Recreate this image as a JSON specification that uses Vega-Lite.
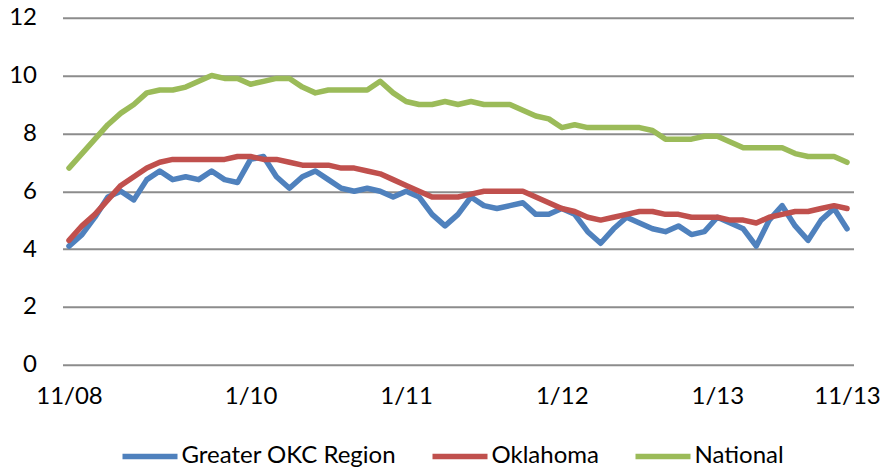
{
  "$schema": "https://vega.github.io/schema/vega-lite/v6.json",
  "autosize": {"type": "none"},
  "padding": {"left": 62.5, "top": 17.7, "right": 41.5, "bottom": 104.3},
  "width": 791,
  "height": 347,
  "background": "white",
  "config": {
    "view": {"stroke": null},
    "font": "Lato",
    "axis": {"labelFont": "Lato", "labelFontSize": 24, "labelColor": "#000000"}
  },
  "data": {
    "values": [
      {"m": "11/08", "Greater OKC Region": 4.1, "Oklahoma": 4.3, "National": 6.8},
      {"m": "12/08", "Greater OKC Region": 4.5, "Oklahoma": 4.8, "National": 7.3},
      {"m": "1/09", "Greater OKC Region": 5.1, "Oklahoma": 5.2, "National": 7.8},
      {"m": "2/09", "Greater OKC Region": 5.8, "Oklahoma": 5.7, "National": 8.3},
      {"m": "3/09", "Greater OKC Region": 6.0, "Oklahoma": 6.2, "National": 8.7},
      {"m": "4/09", "Greater OKC Region": 5.7, "Oklahoma": 6.5, "National": 9.0},
      {"m": "5/09", "Greater OKC Region": 6.4, "Oklahoma": 6.8, "National": 9.4},
      {"m": "6/09", "Greater OKC Region": 6.7, "Oklahoma": 7.0, "National": 9.5},
      {"m": "7/09", "Greater OKC Region": 6.4, "Oklahoma": 7.1, "National": 9.5},
      {"m": "8/09", "Greater OKC Region": 6.5, "Oklahoma": 7.1, "National": 9.6},
      {"m": "9/09", "Greater OKC Region": 6.4, "Oklahoma": 7.1, "National": 9.8},
      {"m": "10/09", "Greater OKC Region": 6.7, "Oklahoma": 7.1, "National": 10.0},
      {"m": "11/09", "Greater OKC Region": 6.4, "Oklahoma": 7.1, "National": 9.9},
      {"m": "12/09", "Greater OKC Region": 6.3, "Oklahoma": 7.2, "National": 9.9},
      {"m": "1/10", "Greater OKC Region": 7.1, "Oklahoma": 7.2, "National": 9.7},
      {"m": "2/10", "Greater OKC Region": 7.2, "Oklahoma": 7.1, "National": 9.8},
      {"m": "3/10", "Greater OKC Region": 6.5, "Oklahoma": 7.1, "National": 9.9},
      {"m": "4/10", "Greater OKC Region": 6.1, "Oklahoma": 7.0, "National": 9.9},
      {"m": "5/10", "Greater OKC Region": 6.5, "Oklahoma": 6.9, "National": 9.6},
      {"m": "6/10", "Greater OKC Region": 6.7, "Oklahoma": 6.9, "National": 9.4},
      {"m": "7/10", "Greater OKC Region": 6.4, "Oklahoma": 6.9, "National": 9.5},
      {"m": "8/10", "Greater OKC Region": 6.1, "Oklahoma": 6.8, "National": 9.5},
      {"m": "9/10", "Greater OKC Region": 6.0, "Oklahoma": 6.8, "National": 9.5},
      {"m": "10/10", "Greater OKC Region": 6.1, "Oklahoma": 6.7, "National": 9.5},
      {"m": "11/10", "Greater OKC Region": 6.0, "Oklahoma": 6.6, "National": 9.8},
      {"m": "12/10", "Greater OKC Region": 5.8, "Oklahoma": 6.4, "National": 9.4},
      {"m": "1/11", "Greater OKC Region": 6.0, "Oklahoma": 6.2, "National": 9.1},
      {"m": "2/11", "Greater OKC Region": 5.8, "Oklahoma": 6.0, "National": 9.0},
      {"m": "3/11", "Greater OKC Region": 5.2, "Oklahoma": 5.8, "National": 9.0},
      {"m": "4/11", "Greater OKC Region": 4.8, "Oklahoma": 5.8, "National": 9.1},
      {"m": "5/11", "Greater OKC Region": 5.2, "Oklahoma": 5.8, "National": 9.0},
      {"m": "6/11", "Greater OKC Region": 5.8, "Oklahoma": 5.9, "National": 9.1},
      {"m": "7/11", "Greater OKC Region": 5.5, "Oklahoma": 6.0, "National": 9.0},
      {"m": "8/11", "Greater OKC Region": 5.4, "Oklahoma": 6.0, "National": 9.0},
      {"m": "9/11", "Greater OKC Region": 5.5, "Oklahoma": 6.0, "National": 9.0},
      {"m": "10/11", "Greater OKC Region": 5.6, "Oklahoma": 6.0, "National": 8.8},
      {"m": "11/11", "Greater OKC Region": 5.2, "Oklahoma": 5.8, "National": 8.6},
      {"m": "12/11", "Greater OKC Region": 5.2, "Oklahoma": 5.6, "National": 8.5},
      {"m": "1/12", "Greater OKC Region": 5.4, "Oklahoma": 5.4, "National": 8.2},
      {"m": "2/12", "Greater OKC Region": 5.2, "Oklahoma": 5.3, "National": 8.3},
      {"m": "3/12", "Greater OKC Region": 4.6, "Oklahoma": 5.1, "National": 8.2},
      {"m": "4/12", "Greater OKC Region": 4.2, "Oklahoma": 5.0, "National": 8.2},
      {"m": "5/12", "Greater OKC Region": 4.7, "Oklahoma": 5.1, "National": 8.2},
      {"m": "6/12", "Greater OKC Region": 5.1, "Oklahoma": 5.2, "National": 8.2},
      {"m": "7/12", "Greater OKC Region": 4.9, "Oklahoma": 5.3, "National": 8.2},
      {"m": "8/12", "Greater OKC Region": 4.7, "Oklahoma": 5.3, "National": 8.1},
      {"m": "9/12", "Greater OKC Region": 4.6, "Oklahoma": 5.2, "National": 7.8},
      {"m": "10/12", "Greater OKC Region": 4.8, "Oklahoma": 5.2, "National": 7.8},
      {"m": "11/12", "Greater OKC Region": 4.5, "Oklahoma": 5.1, "National": 7.8},
      {"m": "12/12", "Greater OKC Region": 4.6, "Oklahoma": 5.1, "National": 7.9},
      {"m": "1/13", "Greater OKC Region": 5.1, "Oklahoma": 5.1, "National": 7.9},
      {"m": "2/13", "Greater OKC Region": 4.9, "Oklahoma": 5.0, "National": 7.7},
      {"m": "3/13", "Greater OKC Region": 4.7, "Oklahoma": 5.0, "National": 7.5},
      {"m": "4/13", "Greater OKC Region": 4.1, "Oklahoma": 4.9, "National": 7.5},
      {"m": "5/13", "Greater OKC Region": 5.0, "Oklahoma": 5.1, "National": 7.5},
      {"m": "6/13", "Greater OKC Region": 5.5, "Oklahoma": 5.2, "National": 7.5},
      {"m": "7/13", "Greater OKC Region": 4.8, "Oklahoma": 5.3, "National": 7.3},
      {"m": "8/13", "Greater OKC Region": 4.3, "Oklahoma": 5.3, "National": 7.2},
      {"m": "9/13", "Greater OKC Region": 5.0, "Oklahoma": 5.4, "National": 7.2},
      {"m": "10/13", "Greater OKC Region": 5.4, "Oklahoma": 5.5, "National": 7.2},
      {"m": "11/13", "Greater OKC Region": 4.7, "Oklahoma": 5.4, "National": 7.0}
    ]
  },
  "transform": [
    {"fold": ["Greater OKC Region", "Oklahoma", "National"], "as": ["series", "value"]}
  ],
  "mark": {"type": "line", "strokeWidth": 5.5, "strokeJoin": "round", "strokeCap": "round"},
  "encoding": {
    "x": {
      "field": "m",
      "type": "ordinal",
      "sort": null,
      "scale": {"type": "point", "padding": 0.5},
      "axis": {
        "title": null,
        "values": ["11/08", "1/10", "1/11", "1/12", "1/13", "11/13"],
        "domain": false,
        "ticks": false,
        "grid": false,
        "labelAngle": 0,
        "labelPadding": 20,
        "labelOverlap": false,
        "labelBound": false,
        "labelFlush": false
      }
    },
    "y": {
      "field": "value",
      "type": "quantitative",
      "scale": {"domain": [0, 12], "nice": false, "zero": true},
      "axis": {
        "title": null,
        "values": [0, 2, 4, 6, 8, 10, 12],
        "domain": false,
        "ticks": false,
        "grid": true,
        "gridColor": "#8c8c8c",
        "gridWidth": 2,
        "labelPadding": 26,
        "labelBaseline": "middle"
      }
    },
    "color": {
      "field": "series",
      "type": "nominal",
      "sort": ["Greater OKC Region", "Oklahoma", "National"],
      "scale": {
        "domain": ["Greater OKC Region", "Oklahoma", "National"],
        "range": ["#4F81BD", "#C0504D", "#9BBB59"]
      },
      "legend": {
        "title": null,
        "orient": "none",
        "direction": "horizontal",
        "legendX": 57,
        "legendY": 408,
        "symbolType": "stroke",
        "symbolSize": 3025,
        "symbolStrokeWidth": 5.5,
        "labelFont": "Lato",
        "labelFontSize": 24,
        "labelColor": "#000000",
        "labelLimit": 400,
        "labelOffset": 1,
        "columnPadding": 25,
        "padding": 0
      }
    }
  }
}
